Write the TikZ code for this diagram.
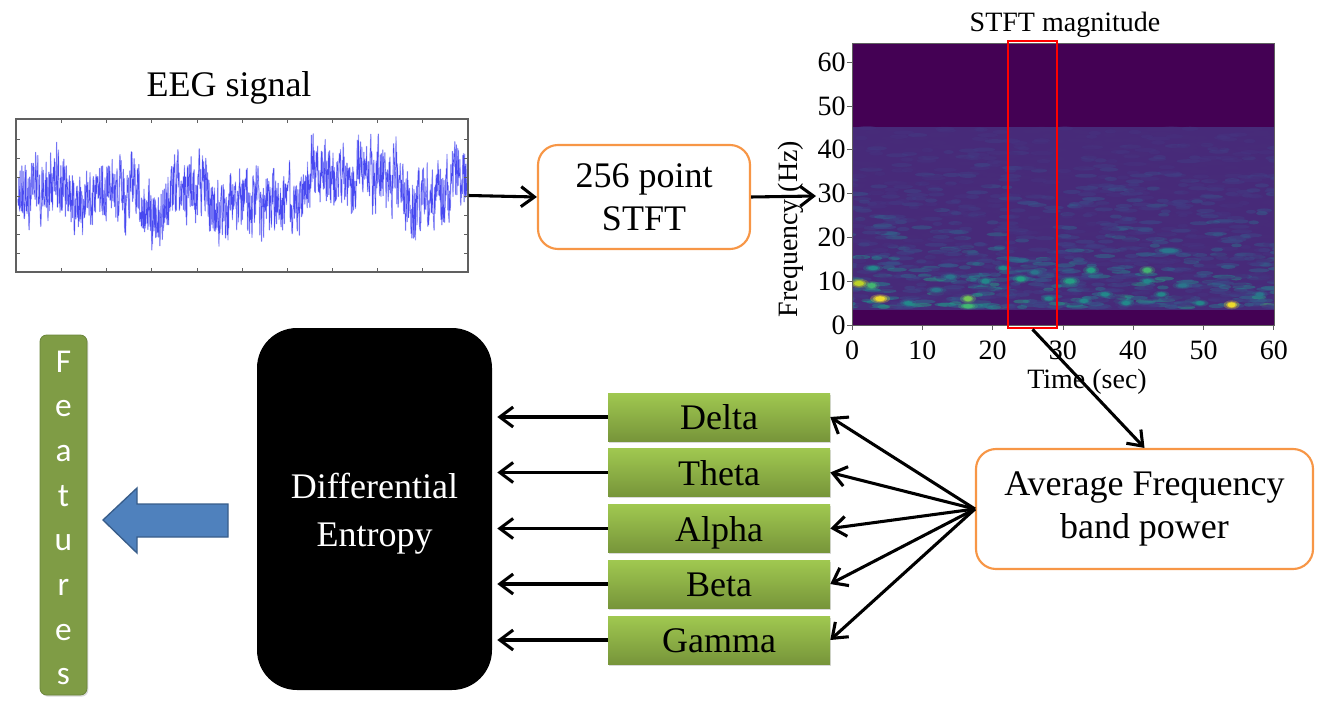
\documentclass[tikz,border=0pt]{standalone}
\usepackage{fontspec}
\setmainfont{Liberation Serif}
\newfontfamily\featfont{Carlito}
\usetikzlibrary{arrows.meta,shadows}
\definecolor{orangeB}{HTML}{F79646}
\definecolor{bandT}{HTML}{A0C850}
\definecolor{bandB}{HTML}{77953A}
\definecolor{featG}{HTML}{7F9C45}
\definecolor{featD}{HTML}{6A853A}
\definecolor{arrBlue}{HTML}{4F81BD}
\definecolor{arrBlueD}{HTML}{385D8A}
\definecolor{vir0}{HTML}{440154}
\definecolor{virbase}{HTML}{472A79}
\definecolor{sp0}{HTML}{472D7B}
\definecolor{sp1}{HTML}{453581}
\definecolor{sp2}{HTML}{413F86}
\definecolor{sp3}{HTML}{3C4B89}
\definecolor{sp4}{HTML}{36598C}
\definecolor{sp5}{HTML}{2F6A8E}
\definecolor{sp6}{HTML}{297A8E}
\definecolor{sp7}{HTML}{218E8C}
\definecolor{sp8}{HTML}{22A884}
\definecolor{sp9}{HTML}{44BF70}
\definecolor{sp10}{HTML}{7AD151}
\definecolor{spY}{HTML}{FDE725}
\definecolor{spYG}{HTML}{C8E020}
\definecolor{eegblue}{HTML}{2A2AEE}
\definecolor{eeglight}{HTML}{9A9CF8}
\definecolor{framegray}{HTML}{606060}
\begin{document}
\begin{tikzpicture}[x=0.75pt,y=-0.75pt,
  arr/.style={line width=2.3pt,-{Straight Barb[length=10pt,width=15pt]}},
  obox/.style={draw=orangeB,line width=1.6pt,rounded corners=15pt,fill=white,align=center,
    font=\fontsize{27}{32}\selectfont,inner sep=0pt},
  band/.style={top color=bandT,bottom color=bandB,draw=none,minimum width=166.5pt,minimum height=36pt,
    inner sep=0pt,font=\fontsize{27}{32}\selectfont,text height=19pt,text depth=0pt,
    drop shadow={shadow xshift=1pt,shadow yshift=-1.2pt,opacity=0.3}},
  lbl/.style={inner sep=0pt,font=\fontsize{27}{32}\selectfont},
  slbl/.style={inner sep=0pt,font=\fontsize{21}{24}\selectfont},
  tick/.style={framegray,line width=0.6pt},
  featl/.style={inner sep=0pt,text=white,font=\featfont\fontsize{25}{30}\selectfont}]
\useasboundingbox (0,0) rectangle (1344,720);

% ---------------- EEG signal ----------------
\node[lbl,anchor=base] (eegt) at (229,97) {EEG signal};
\pgfmathsetseed{21}
\gdef\eegslow{0}\gdef\eegmid{0}\gdef\eegfast{0}\gdef\eegpts{}
\foreach \i in {0,...,1499}{
  \pgfmathsetmacro\eegfa{0.25*\eegfast+(rnd-0.5)*54}
  \pgfmathsetmacro\eegma{0.9*\eegmid+(rnd-0.5)*14}
  \pgfmathsetmacro\eegsa{0.99*\eegslow+(rnd-0.5)*4}
  \global\let\eegfast\eegfa \global\let\eegmid\eegma \global\let\eegslow\eegsa
  \pgfmathsetmacro\eegy{max(123,min(270,196+\eegsa+\eegma+\eegfa))}
  \pgfmathsetmacro\eegx{18+\i*0.3}
  \xdef\eegpts{\eegpts (\eegx,\eegy)}
}
\draw[eeglight,line width=1pt,opacity=0.6,line join=round] plot coordinates {\eegpts};
\draw[eegblue,line width=0.3pt,opacity=0.8,line join=round] plot coordinates {\eegpts};
\node[draw=framegray,line width=1pt,minimum width=339pt,minimum height=114.75pt,inner sep=0pt] (eeg) at (242,195.5) {};
\foreach \tx in {61,106,151,197,242,287,332,377,422}{
  \draw[tick] (\tx,119) -- ++(0,4); \draw[tick] (\tx,272) -- ++(0,-4);}
\foreach \ty in {139,158,177,196,215,234,253}{
  \draw[tick] (16,\ty) -- ++(4,0); \draw[tick] (468,\ty) -- ++(-4,0);}

% ---------------- STFT box ----------------
\node[obox,minimum width=159pt,minimum height=78pt] (stft) at (644,197) {256 point\\STFT};

% ---------------- Spectrogram ----------------
\node[slbl,anchor=base] (spect) at (1065,32) {STFT magnitude};
\begin{scope}
\clip (852,43) rectangle (1274,325);
\fill[vir0] (852,43) rectangle (1274,325);
\fill[virbase] (852,127) rectangle (1274,310);
\pgfmathsetseed{5}
\foreach \i in {1,...,1700}{
  \pgfmathsetmacro\spt{rnd*62-1}
  \pgfmathsetmacro\spf{4+41*rnd^1.5}
  \pgfmathtruncatemacro\splv{int(rnd^1.8*(1.25-(\spf-4)/41)*7.5)}
  \pgfmathsetmacro\sprx{5+7*rnd}
  \fill[sp\splv,opacity=0.45] ({852+7.03*\spt},{325-4.38*\spf}) ellipse [x radius=\sprx,y radius=2];
}
\foreach \t/\f/\c/\rx/\ry in {1/9.5/spYG/5/2.5,4/6/spY/5/2.5,2.8/9/sp9/4/2.5,16.5/6/sp10/4/2.5,16.5/4.3/sp9/5/2,
  54/4.6/spY/4/2.5,42/12.5/sp9/4/2.5,24/10.5/sp8/4/2.5,31/10/sp8/5/2.5,34/12.5/sp8/4/2.5,19/10/sp7/4/2.5,
  49.5/5/sp7/4/2,8/5/sp7/4/2,39/5/sp7/4/2,42/10/sp7/4/2,3/13/sp7/5/2,21.5/13/sp7/4/2,45/17/sp6/7/2,
  28/6/sp7/4/2,12/8/sp6/5/2,36/7/sp7/4/2,58/7/sp6/4/2,47/9/sp6/5/2,44/7/sp7/4/2,26/12/sp6/4/2,
  33/5.5/sp7/4/2,14/11/sp6/5/2}{
  \fill[\c,opacity=0.25] ({852+7.03*\t},{325-4.38*\f}) ellipse [x radius={\rx*2},y radius={\ry*1.8}];
  \fill[\c,opacity=0.45] ({852+7.03*\t},{325-4.38*\f}) ellipse [x radius={\rx*1.4},y radius={\ry*1.35}];
  \fill[\c,opacity=0.8] ({852+7.03*\t},{325-4.38*\f}) ellipse [x radius=\rx,y radius=\ry];
}
\fill[vir0] (852,310) rectangle (1274,325);
\end{scope}
\node[draw=framegray,line width=0.6pt,minimum width=316.5pt,minimum height=211.5pt,inner sep=0pt] (spec) at (1063,184) {};
\foreach \v in {0,10,...,60}{
  \draw[tick] ({852+7.03*\v},325) -- ++(0,5);
  \node[slbl] at ({852+7.03*\v},350) {\v};
  \draw[tick] (852,{325-4.38*\v}) -- ++(-5,0);
  \node[slbl,anchor=east] at (846,{325-4.38*\v}) {\v};
}
\node[slbl,rotate=90] (freq) at (791,229) {Frequency (Hz)};
\node[slbl,anchor=base] (timel) at (1087,388) {Time (sec)};
\node[draw=red,line width=2pt,minimum width=36.75pt,minimum height=215.25pt,inner sep=0pt] (red) at (1032.5,184.5) {};
\coordinate (specin) at (816,196);

% ---------------- Average box ----------------
\node[obox,minimum width=252.75pt,minimum height=90pt] (avg) at (1144.5,509) {Average Frequency\\band power};

% ---------------- Bands ----------------
\node[band] (delta) at (719,417) {Delta};
\node[band] (theta) at (719,472.5) {Theta};
\node[band] (alpha) at (719,528.5) {Alpha};
\node[band] (beta) at (719,584) {Beta};
\node[band] (gamma) at (719,640) {Gamma};

% ---------------- Differential Entropy ----------------
\node[fill=black,rounded corners=30pt,minimum width=176.25pt,minimum height=271.5pt,inner sep=0pt] (de) at (374.5,509) {};
\node[inner sep=0pt,text=white,align=center,font=\fontsize{27}{36}\selectfont] (detext) at (374.5,514) {Differential\\Entropy};

% ---------------- Features ----------------
\node[fill=featG,draw=featD,line width=0.6pt,rounded corners=5pt,minimum width=35.25pt,minimum height=270pt,inner sep=0pt,
  drop shadow={shadow xshift=1pt,shadow yshift=-1.2pt,opacity=0.3}] (feat) at (63.5,515) {};
\foreach \l [count=\k] in {F,e,a,t,u,r,e,s}
  \node[featl,anchor=base] at (63.5,{372+44.7*(\k-1)}) {\l};

% blue block arrow
\filldraw[fill=arrBlue,draw=arrBlueD,line width=1pt,line join=miter]
  (103,520) -- (137,488) -- (137,504) -- (228,504) -- (228,537) -- (137,537) -- (137,553) -- cycle;

% ---------------- Connectors ----------------
\draw[arr] (eeg.east) -- (stft.west);
\draw[arr] (stft.east) -- (specin);
\draw[arr] (red.south) -- (avg.north);
\foreach \b in {delta,theta,alpha,beta,gamma}{
  \draw[arr] (avg.west) -- (\b.east);
  \draw[arr,shorten >=3.75pt] (\b.west) -- (de.east |- \b.west);
}
\end{tikzpicture}
\end{document}
